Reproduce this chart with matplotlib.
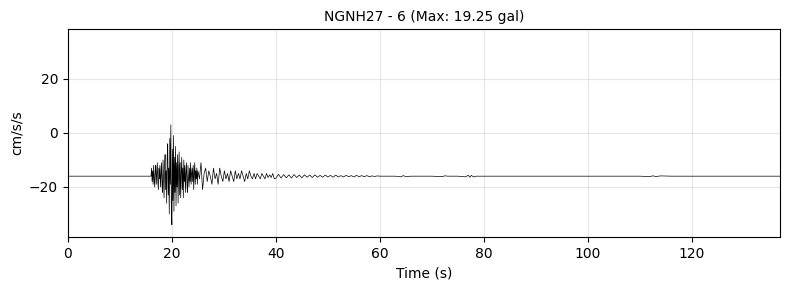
import numpy as np
import matplotlib.pyplot as plt

# quiet lead-in before the arrival
t_pre = [0.0]
acc_pre = [-16.0]

# strong motion, 16.0 - 24.9 s, every 0.1 s
t1_start, dt1 = 16.0, 0.1
acc1 = [-16, -13, -18, -14, -19, -12, -17, -20, -14, -12,
        -19, -15, -11, -18, -21, -13, -17, -12, -20, -15,
        -11, -19, -22, -10, -17, -24, -12, -8, -21, -14,
        -26, -9, -4, -23, -13, -30, -2, -19, 3, -28,
        -34, -6, -25, -1, -29, -9, -22, -5, -27, -11,
        -20, -8, -26, -13, -7, -23, -11, -24, -15, -9,
        -21, -13, -24, -10, -18, -12, -22, -15, -11, -19,
        -22, -12, -17, -20, -13, -18, -11, -19, -15, -13,
        -18, -12, -21, -15, -11, -19, -14, -17, -13, -19]

# coda, 25.0 - 39.7 s, every 0.3 s
t2_start, dt2 = 25.0, 0.3
acc2 = [-14, -17, -11, -21, -15, -13, -18, -14, -16, -19,
        -13, -17, -15, -19, -13, -16, -18, -14, -17, -15,
        -18, -14, -16, -18, -14, -17, -15, -17, -14, -16,
        -18, -15, -17, -14, -16, -17, -15, -17, -15, -16,
        -17, -15, -16, -17, -15, -16.5, -15.5, -16.5, -15, -17]

# late coda, 40 - 59.5 s, every 0.5 s
t3_start, dt3 = 40.0, 0.5
acc3 = [-16.8, -15.3, -16.7, -15.4, -16.6, -15.5, -16.7, -15.4, -16.5, -15.6,
        -16.6, -15.5, -16.4, -15.6, -16.5, -15.5, -16.4, -15.7, -16.4, -15.6,
        -16.3, -15.7, -16.4, -15.6, -16.3, -15.8, -16.3, -15.7, -16.2, -15.8,
        -16.3, -15.7, -16.2, -15.8, -16.2, -15.8, -16.2, -15.9, -16.1, -15.9]

# tail with a few small blips
t_tail = [60, 63, 64, 64.5, 65, 66, 70, 72, 72.5, 73, 75, 76.5, 77, 77.3,
          77.6, 78, 78.5, 80, 85, 95, 110, 112, 112.5, 113, 114, 116, 118, 137]
acc_tail = [-16, -16, -16.25, -15.8, -16.15, -16, -16, -16.2, -15.85, -16, -16,
            -16.25, -15.65, -16.4, -15.7, -16.3, -16, -16, -16, -16, -16, -16.15,
            -15.85, -16.15, -15.9, -16, -16, -16]

max_gal = 19.25

t1 = t1_start + dt1 * np.arange(len(acc1))
t2 = t2_start + dt2 * np.arange(len(acc2))
t3 = t3_start + dt3 * np.arange(len(acc3))
t = np.concatenate([t_pre, t1, t2, t3, t_tail])
acc = np.concatenate([acc_pre, acc1, acc2, acc3, acc_tail])

fig, ax = plt.subplots(figsize=(7.89, 2.9), dpi=100)
ax.plot(t, acc, color='k', linewidth=0.5)
ax.set_xlim(0, 137)
ax.set_ylim(-2 * max_gal, 2 * max_gal)
ax.grid(True, alpha=0.3)
ax.set_xlabel("Time (s)")
ax.set_ylabel("cm/s/s")
ax.set_title("NGNH27 - 6 (Max: %.2f gal)" % max_gal, fontsize=10)
fig.subplots_adjust(left=0.086, right=0.989, top=0.9, bottom=0.183)
fig.savefig("out.png")
